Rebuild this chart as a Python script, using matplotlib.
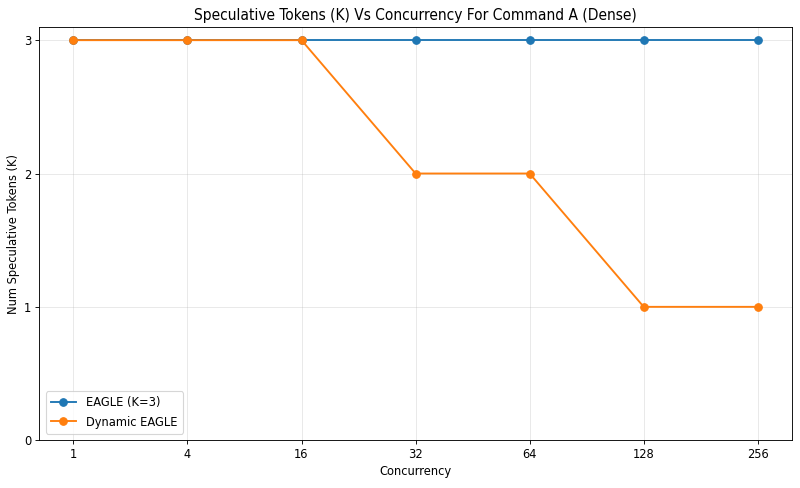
import matplotlib
matplotlib.use("Agg")
import matplotlib.pyplot as plt

concurrency = ["1", "4", "16", "32", "64", "128", "256"]
eagle_k3 = [3, 3, 3, 3, 3, 3, 3]
dynamic_eagle = [3, 3, 3, 2, 2, 1, 1]

# the reference text is tall and narrow, so use the condensed DejaVu face
plt.rcParams['font.family'] = ['DejaVu Sans']
plt.rcParams['font.stretch'] = 'condensed'
plt.rcParams['font.size'] = 11.5

fig, ax = plt.subplots(figsize=(10, 6.1), dpi=80)
x = list(range(len(concurrency)))
ax.plot(x, eagle_k3, marker='o', markersize=6.8, linewidth=1.7, label='EAGLE (K=3)')
ax.plot(x, dynamic_eagle, marker='o', markersize=6.8, linewidth=1.7, label='Dynamic EAGLE')

ax.set_xticks(x)
ax.set_xticklabels(concurrency)
ax.set_yticks([0, 1, 2, 3])
ax.set_xlim(-0.3, 6.3)
ax.set_ylim(0, 3.1)
ax.set_xlabel('Concurrency')
ax.set_ylabel('Num Speculative Tokens (K)')
ax.set_title('Speculative Tokens (K) Vs Concurrency For Command A (Dense)')
ax.grid(True, alpha=0.3)
ax.legend(loc='lower left')

fig.subplots_adjust(left=0.049, right=0.99, top=0.945, bottom=0.098)
fig.savefig('out.png')
